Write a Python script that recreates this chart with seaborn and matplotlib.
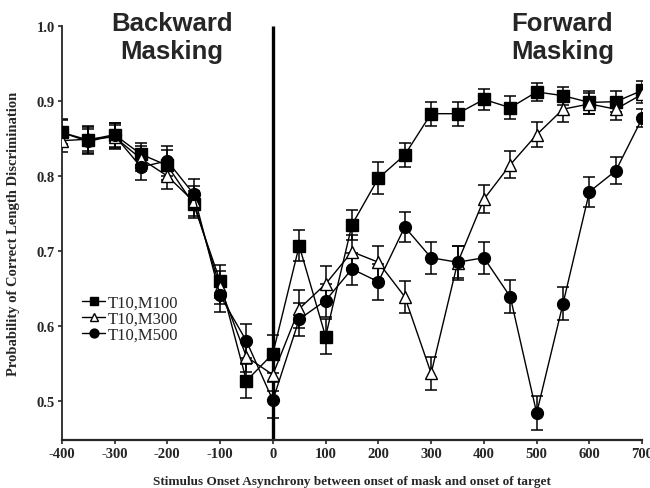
import numpy as np
import pandas as pd
import seaborn as sns
import matplotlib.pyplot as plt

# stimulus onset asynchrony (ms)
soa = [-400, -350, -300, -250, -200, -150, -100, -50, 0, 50, 100, 150, 200,
       250, 300, 350, 400, 450, 500, 550, 600, 650, 700]

# probability of correct length discrimination
m100 = [0.858, 0.848, 0.855, 0.829, 0.814, 0.762, 0.660, 0.527, 0.563, 0.707, 0.586, 0.735,
        0.797, 0.828, 0.883, 0.883, 0.902, 0.891, 0.912, 0.907, 0.898, 0.899, 0.914]
m300 = [0.847, 0.849, 0.852, 0.823, 0.800, 0.766, 0.652, 0.559, 0.535, 0.623, 0.656, 0.699,
        0.685, 0.639, 0.537, 0.684, 0.769, 0.815, 0.855, 0.889, 0.896, 0.889, 0.909]
m500 = [0.858, 0.846, 0.854, 0.812, 0.820, 0.776, 0.641, 0.580, 0.501, 0.609, 0.634, 0.676,
        0.659, 0.732, 0.691, 0.685, 0.691, 0.639, 0.484, 0.630, 0.779, 0.807, 0.877]

# standard errors
m100_err = [0.018, 0.018, 0.016, 0.015, 0.020, 0.018, 0.022, 0.023, 0.025, 0.021, 0.023, 0.020,
            0.021, 0.016, 0.016, 0.016, 0.014, 0.015, 0.012, 0.012, 0.015, 0.014, 0.012]
m300_err = [0.015, 0.016, 0.016, 0.017, 0.017, 0.020, 0.022, 0.020, 0.022, 0.025, 0.024, 0.022,
            0.022, 0.021, 0.022, 0.022, 0.019, 0.018, 0.017, 0.017, 0.014, 0.015, 0.012]
m500_err = [0.016, 0.017, 0.017, 0.018, 0.020, 0.020, 0.022, 0.023, 0.024, 0.022, 0.022, 0.021,
            0.024, 0.020, 0.021, 0.021, 0.021, 0.022, 0.023, 0.022, 0.020, 0.018, 0.012]

conditions = ['T10,M100', 'T10,M300', 'T10,M500']
markers = {'T10,M100': 's', 'T10,M300': '^', 'T10,M500': 'o'}
faces = {'T10,M100': 'black', 'T10,M300': 'white', 'T10,M500': 'black'}

df = pd.DataFrame({
    'soa': soa * 3,
    'p': m100 + m300 + m500,
    'err': m100_err + m300_err + m500_err,
    'cond': np.repeat(conditions, len(soa)),
})

sns.set_style('ticks')
plt.rcParams['font.family'] = ['Liberation Serif', 'DejaVu Serif']
plt.rcParams['axes.unicode_minus'] = False

fig, ax = plt.subplots(figsize=(6.5, 4.89), dpi=100)
fig.subplots_adjust(left=0.095, right=0.988, bottom=0.098, top=0.945)

for cond in conditions:
    sub = df[df['cond'] == cond]
    ax.errorbar(sub['soa'], sub['p'], yerr=sub['err'], fmt='none', ecolor='black',
                elinewidth=1.1, capsize=4.5, capthick=1.1, zorder=2)
    sns.lineplot(data=sub, x='soa', y='p', ax=ax, color='black', linewidth=1.0,
                 marker=markers[cond], markersize=8.5, markerfacecolor=faces[cond],
                 markeredgecolor='black', markeredgewidth=1.0, label=cond, zorder=3)

# onset of target
ax.vlines(0, 0.448, 1.0, color='black', linewidth=2.4, zorder=1)

ax.set_xlim(-400, 700)
ax.set_ylim(0.448, 1.0)
ax.set_xticks(np.arange(-400, 701, 100))
ax.set_yticks([0.5, 0.6, 0.7, 0.8, 0.9, 1.0])
ax.set_yticklabels(['0.5', '0.6', '0.7', '0.8', '0.9', '1.0'])
ax.tick_params(axis='both', labelsize=10.5, length=3, width=1.2, pad=2)
for lab in ax.get_xticklabels() + ax.get_yticklabels():
    lab.set_fontweight('bold')
sns.despine(ax=ax)
ax.spines['left'].set_linewidth(1.3)
ax.spines['bottom'].set_linewidth(1.6)

ax.set_xlabel('Stimulus Onset Asynchrony between onset of mask and onset of target',
              fontsize=9.5, fontweight='bold', labelpad=11)
ax.set_ylabel('Probability of Correct Length Discrimination',
              fontsize=10.5, fontweight='bold', labelpad=12)

ax.text(-191, 1.02, 'Backward\nMasking', ha='center', va='top', fontsize=18.5,
        family='Liberation Sans', fontweight='bold', linespacing=1.2, clip_on=False)
ax.text(549, 1.02, 'Forward\nMasking', ha='center', va='top', fontsize=18.5,
        family='Liberation Sans', fontweight='bold', linespacing=1.2, clip_on=False)

ax.legend(loc='upper left', bbox_to_anchor=(0.015, 0.38), frameon=False, fontsize=12,
          handlelength=1.4, handletextpad=0.15, labelspacing=0.0, borderpad=0.2,
          markerscale=0.75)

plt.savefig('out.png', dpi=100)
